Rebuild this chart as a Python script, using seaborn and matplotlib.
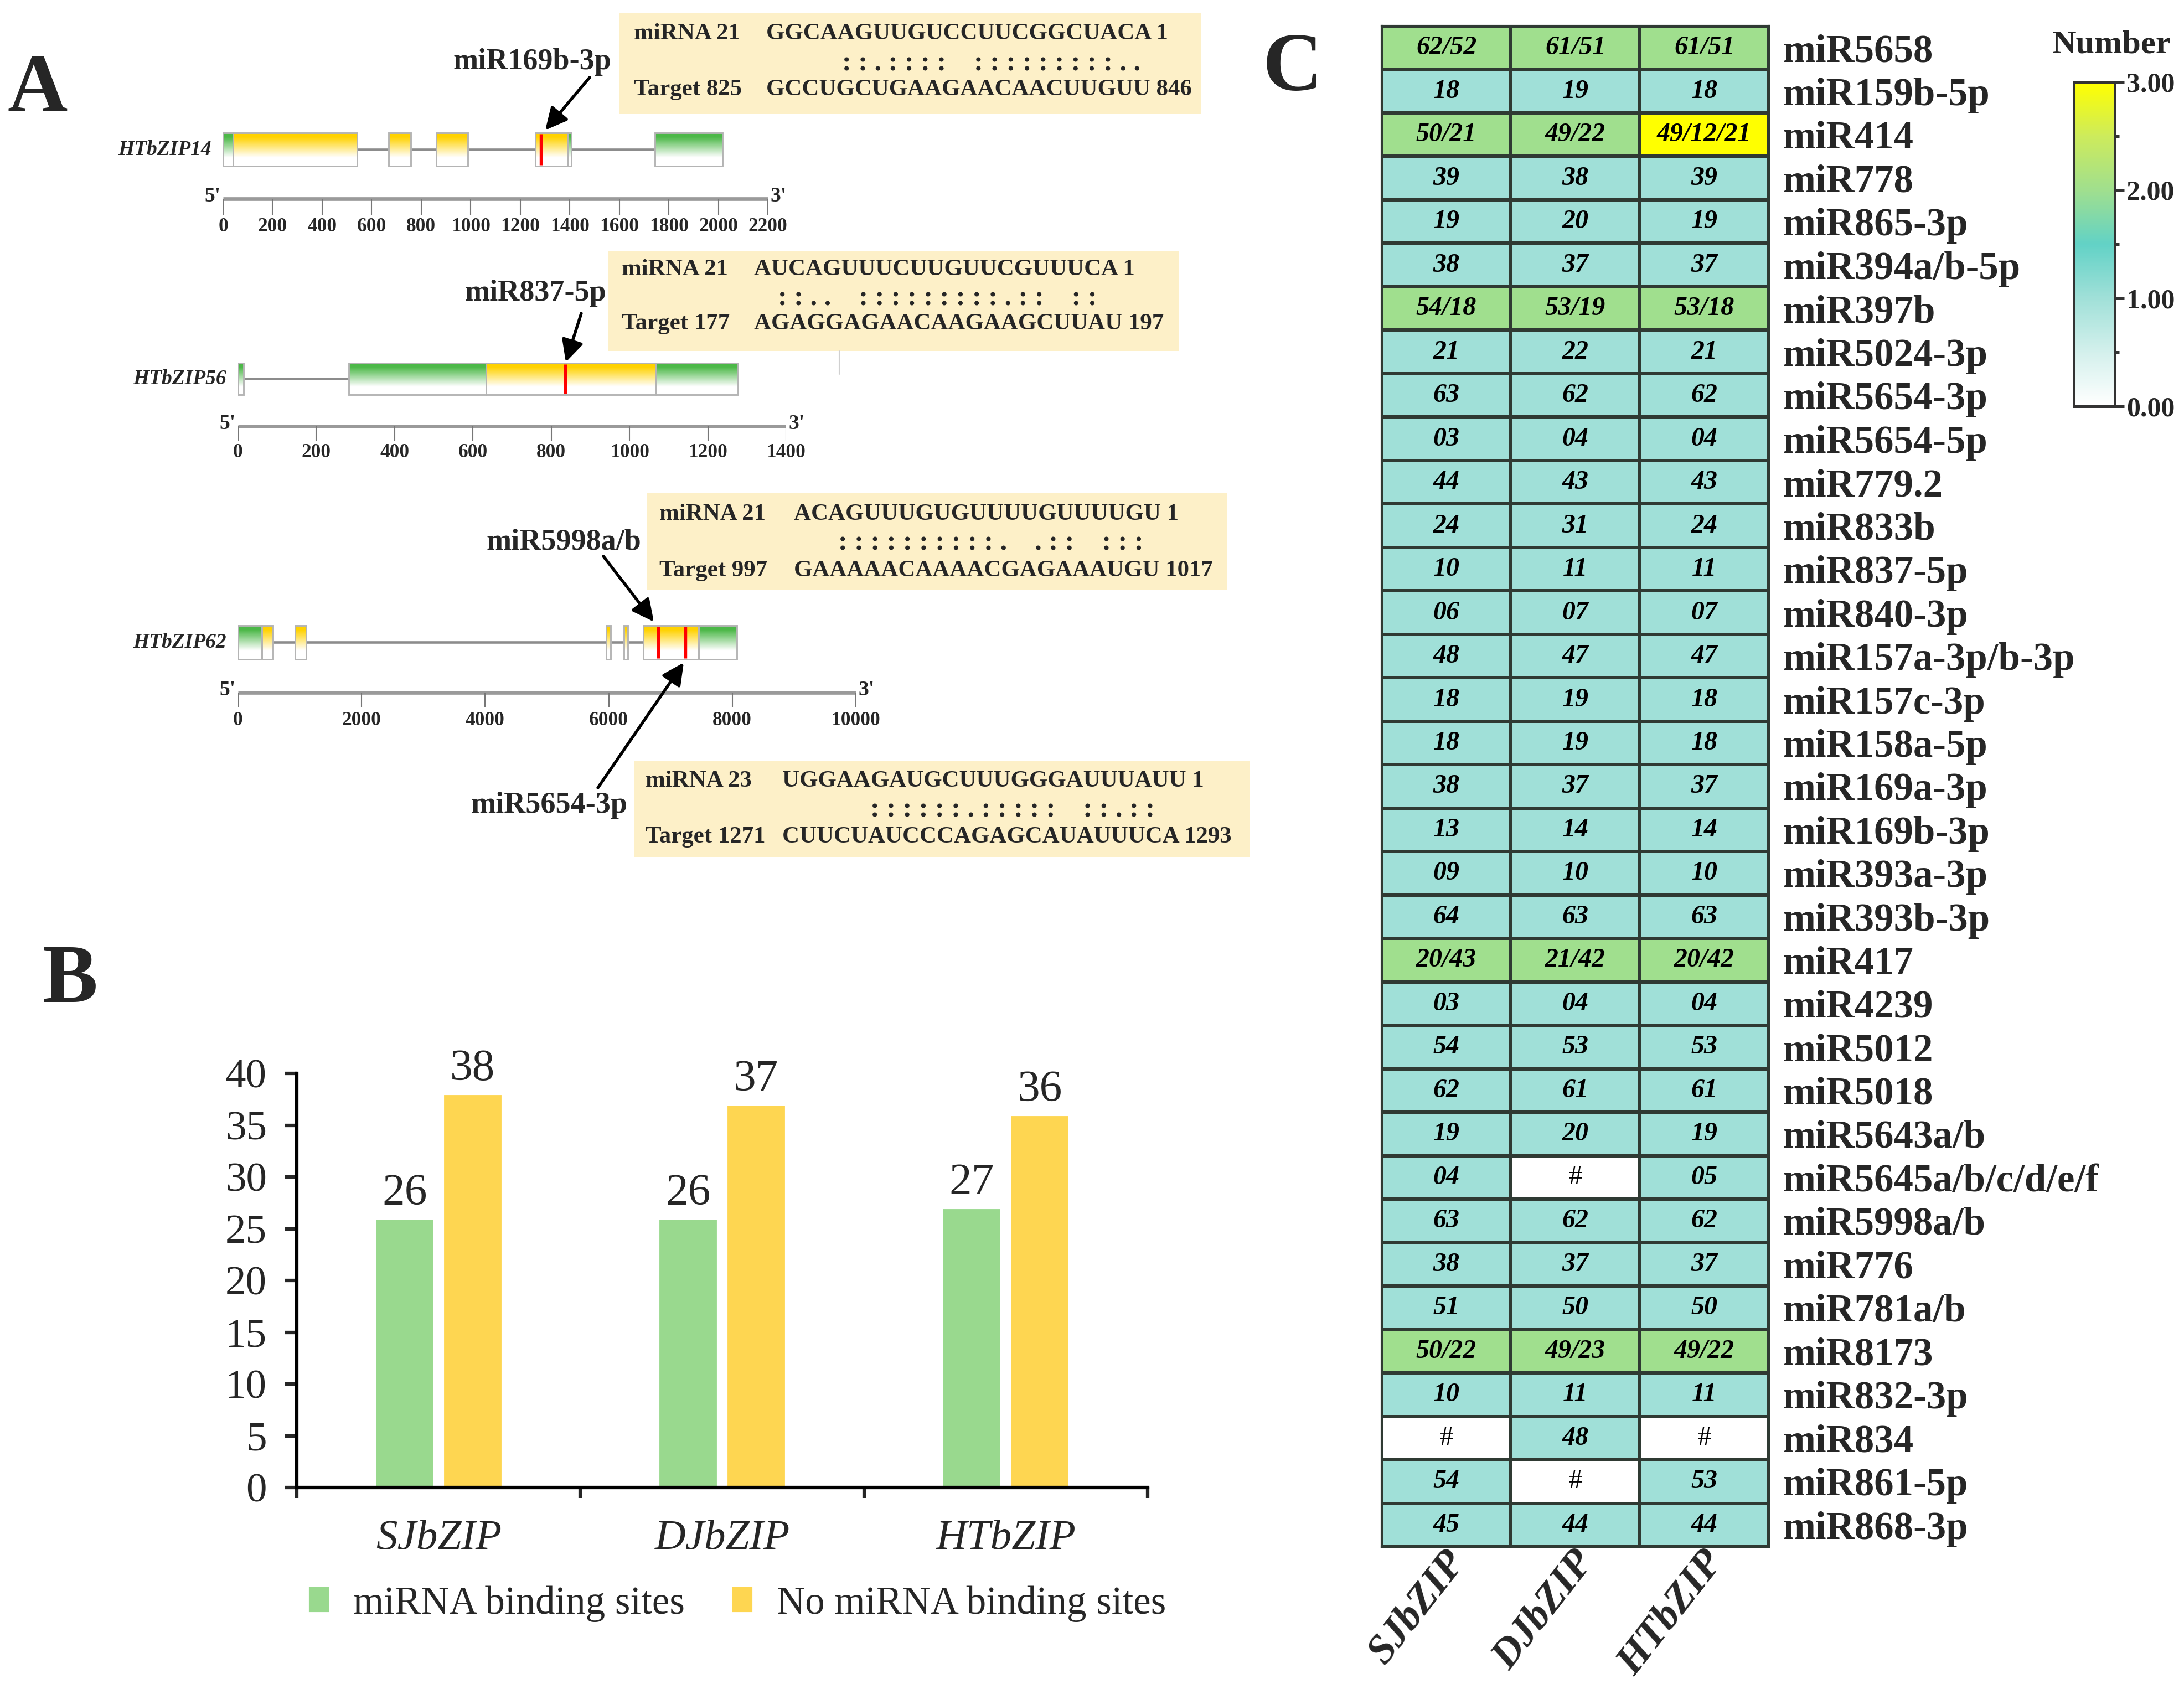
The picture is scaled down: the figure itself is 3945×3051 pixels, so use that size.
import numpy as np
import pandas as pd
import matplotlib.pyplot as plt
import seaborn as sns
from matplotlib.colors import LinearSegmentedColormap, to_rgb
from matplotlib.patches import Rectangle, Patch
from matplotlib.ticker import FixedLocator
from matplotlib.transforms import ScaledTranslation

sns.set_style('white')
plt.rcParams['font.family'] = ['Liberation Serif', 'DejaVu Serif']

W, H, DPI = 3945, 3051, 300

# ---------------- Panel A data (gene structures, positions in bp) ----------------
gene_names = ['HTbZIP14', 'HTbZIP56', 'HTbZIP62']
gene_lengths = [2016, 1277, 8075]
ruler_max = [2200, 1400, 10000]
ruler_step = [200, 200, 2000]
# (start, end, kind)  kind: 'utr' green, 'cds' yellow
exons_14 = [(0, 40, 'utr'), (40, 541, 'cds'), (669, 759, 'cds'), (861, 989, 'cds'),
            (1262, 1391, 'cds'), (1391, 1407, 'utr'), (1744, 2016, 'utr')]
exons_56 = [(0, 14, 'utr'), (283, 633, 'utr'), (633, 1068, 'cds'), (1068, 1277, 'utr')]
exons_62 = [(0, 386, 'utr'), (386, 566, 'cds'), (925, 1105, 'cds'), (5960, 6030, 'cds'),
            (6247, 6310, 'cds'), (6560, 7455, 'cds'), (7455, 8075, 'utr')]
sites_14 = [1284]
sites_56 = [836]
sites_62 = [6800, 7240]

site_mirnas = ['miR169b-3p', 'miR837-5p', 'miR5998a/b', 'miR5654-3p']
align_heads = [('miRNA 21', 'Target 825'), ('miRNA 21', 'Target 177'),
               ('miRNA 21', 'Target 997'), ('miRNA 23', 'Target 1271')]
align_mirna = ['GGCAAGUUGUCCUUCGGCUACA 1', 'AUCAGUUUCUUGUUCGUUUCA 1',
               'ACAGUUUGUGUUUUGUUUUGU 1', 'UGGAAGAUGCUUUGGGAUUUAUU 1']
align_match = [': : . : : : :    : : : : : : : : : . .', ': : . .    : : : : : : : : : . : :    : :',
               ': : : : : : : : : : .    . : :    : : :', ': : : : : : . : : : : :    : : . : :']
align_target = ['GCCUGCUGAAGAACAACUUGUU 846', 'AGAGGAGAACAAGAAGCUUAU 197',
                'GAAAAACAAAACGAGAAAUGU 1017', 'CUUCUAUCCCAGAGCAUAUUUCA 1293']

# ---------------- Panel B data ----------------
families = ['SJbZIP', 'DJbZIP', 'HTbZIP']
with_sites = [26, 26, 27]
without_sites = [38, 37, 36]
bar_types = ['miRNA binding sites', 'No miRNA binding sites']

# ---------------- Panel C data ----------------
mirnas = ['miR5658', 'miR159b-5p', 'miR414', 'miR778', 'miR865-3p', 'miR394a/b-5p', 'miR397b',
          'miR5024-3p', 'miR5654-3p', 'miR5654-5p', 'miR779.2', 'miR833b', 'miR837-5p',
          'miR840-3p', 'miR157a-3p/b-3p', 'miR157c-3p', 'miR158a-5p', 'miR169a-3p',
          'miR169b-3p', 'miR393a-3p', 'miR393b-3p', 'miR417', 'miR4239', 'miR5012', 'miR5018',
          'miR5643a/b', 'miR5645a/b/c/d/e/f', 'miR5998a/b', 'miR776', 'miR781a/b', 'miR8173',
          'miR832-3p', 'miR834', 'miR861-5p', 'miR868-3p']
sj_sites = ['62/52', '18', '50/21', '39', '19', '38', '54/18', '21', '63', '03', '44', '24', '10',
            '06', '48', '18', '18', '38', '13', '09', '64', '20/43', '03', '54', '62', '19', '04',
            '63', '38', '51', '50/22', '10', '#', '54', '45']
dj_sites = ['61/51', '19', '49/22', '38', '20', '37', '53/19', '22', '62', '04', '43', '31', '11',
            '07', '47', '19', '19', '37', '14', '10', '63', '21/42', '04', '53', '61', '20', '#',
            '62', '37', '50', '49/23', '11', '48', '#', '44']
ht_sites = ['61/51', '18', '49/12/21', '39', '19', '37', '53/18', '21', '62', '04', '43', '24', '11',
            '07', '47', '18', '18', '37', '14', '10', '63', '20/42', '04', '53', '61', '19', '05',
            '62', '37', '50', '49/22', '11', '#', '53', '44']
col_names = ['SJbZIP', 'DJbZIP', 'HTbZIP']

GREEN_BAR = '#99d98e'
YELLOW_BAR = '#fed651'
BOX = '#fdf0c8'

fig = plt.figure(figsize=(W / DPI, H / DPI), dpi=DPI)


def px_axes(x0, y0, x1, y1, **kw):
    return fig.add_axes([x0 / W, 1 - y1 / H, (x1 - x0) / W, (y1 - y0) / H], **kw)


# ======================= Panel B: bar chart =======================
df_b = pd.DataFrame({
    'family': families * 2,
    'count': with_sites + without_sites,
    'type': [bar_types[0]] * 3 + [bar_types[1]] * 3,
})
axb = px_axes(536, 1939, 2073, 2687)
sns.barplot(data=df_b, x='family', y='count', hue='type', palette=[GREEN_BAR, YELLOW_BAR],
            width=0.48, gap=0.12, saturation=1, legend=False, ax=axb)
for c in axb.containers:
    axb.bar_label(c, padding=2, fontsize=19.5)
axb.set_ylim(0, 40)
axb.set_yticks(range(0, 41, 5))
axb.set_xlim(-0.5, 2.5)
axb.set_xticks([-0.5, 0.5, 1.5, 2.5])
axb.set_xticklabels([])
axb.set_xticks([0, 1, 2], minor=True)
axb.set_xticklabels(families, minor=True, fontsize=18.5, style='italic')
axb.tick_params(axis='x', which='minor', length=0, pad=14, bottom=True)
axb.tick_params(axis='x', which='major', direction='out', length=4.5, width=1.5, bottom=True)
axb.tick_params(axis='y', direction='out', length=5, width=1.5, left=True, labelsize=18, pad=8)
sns.despine(ax=axb)
for s in ['left', 'bottom']:
    axb.spines[s].set_linewidth(1.5)
    axb.spines[s].set_color('black')
axb.set_xlabel('')
axb.set_ylabel('')
fig.legend([Patch(color=GREEN_BAR), Patch(color=YELLOW_BAR)], bar_types,
           loc='center left', bbox_to_anchor=(560 / W, 1 - 2897 / H), ncol=2, frameon=False,
           fontsize=17, handlelength=0.45, handleheight=0.5, handletextpad=0.65,
           columnspacing=1.25, borderpad=0, borderaxespad=0)

# ======================= Panel C: heatmap =======================
label_arr = np.array([sj_sites, dj_sites, ht_sites]).T
count_arr = np.array([[0 if s == '#' else len(s.split('/')) for s in row] for row in label_arr])
count_df = pd.DataFrame(count_arr, index=mirnas, columns=col_names)

cmap = LinearSegmentedColormap.from_list('number', [
    (0.0, '#ffffff'), (1 / 6, '#d3f0ec'), (1 / 3, '#a0e0d8'), (0.5, '#62d2c6'),
    (2 / 3, '#a0df8e'), (5 / 6, '#cdeb5c'), (1.0, '#ffff00')])

axc = px_axes(2496, 47, 3195, 2794)
cax = px_axes(3746, 148, 3820, 734)
sns.heatmap(count_df, cmap=cmap, vmin=0, vmax=3, annot=label_arr, fmt='',
            annot_kws=dict(fontsize=11.5, fontweight='bold', style='italic', color='black'),
            linewidths=1.0, linecolor='#2f3a33', cbar_ax=cax, ax=axc)
for t in axc.texts:
    if t.get_text() == '#':
        t.set_fontweight('normal')
        t.set_fontstyle('normal')
for s in axc.spines.values():
    s.set_visible(True)
    s.set_color('#2f3a33')
    s.set_linewidth(1.0)
axc.yaxis.tick_right()
axc.set_yticks(np.arange(len(mirnas)) + 0.5)
axc.set_yticklabels(mirnas, rotation=0, fontsize=17, fontweight='bold')
axc.tick_params(axis='y', length=0, pad=6)
axc.set_xticklabels(col_names, rotation=52, ha='right', va='center', rotation_mode='anchor',
                    fontsize=18, fontweight='bold', style='italic')
axc.tick_params(axis='x', length=0, pad=5)
shift = ScaledTranslation(5 / 72, 1 / 72, fig.dpi_scale_trans)
for lab in axc.get_xticklabels():
    lab.set_transform(lab.get_transform() + shift)
axc.set_xlabel('')
axc.set_ylabel('')

cbar = axc.collections[0].colorbar
cbar.set_ticks([0, 1, 2, 3])
cbar.set_ticklabels(['0.00', '1.00', '2.00', '3.00'])
cax.yaxis.set_minor_locator(FixedLocator([0.5, 1.5, 2.5]))
cax.tick_params(which='major', labelsize=12, length=4, width=1.2, color='#333333', pad=1, right=True)
cax.tick_params(which='minor', length=2, width=1.2, color='#333333', right=True)
for t in cax.get_yticklabels():
    t.set_fontweight('bold')
cbar.outline.set_edgecolor('#333333')
cbar.outline.set_linewidth(1.2)

# ======================= Panel A: gene structures =======================
gene_layout = [  # px0, px1, top, bottom, intron_y, ruler_y, tick_bottom, label_y
    (403, 1387, 240, 300, 270, 359, 388, 409),
    (430, 1420, 656, 713, 684, 770, 797, 817),
    (430, 1546, 1130, 1191, 1160, 1251, 1278, 1301),
]
all_exons = [exons_14, exons_56, exons_62]
all_sites = [sites_14, sites_56, sites_62]
kind_color = {'utr': '#4cb848', 'cds': '#ffd200'}

t = np.linspace(0, 1, 120)
mix = np.clip((t - 0.12) / 0.62, 0, 1)[:, None]

for i, name in enumerate(gene_names):
    px0, px1, top, bot, iy, ry, tb, ly = gene_layout[i]
    ax = px_axes(px0, top - 10, px1, ly + 30)
    ax.axis('off')
    ax.plot([0, gene_lengths[i]], [iy, iy], color='#8c8c8c', lw=1.1, solid_capstyle='butt', zorder=1)
    for s, e, kind in all_exons[i]:
        top_rgb = np.array(to_rgb(kind_color[kind]))
        grad = top_rgb * (1 - mix) + np.ones(3) * mix
        ax.imshow(grad[:, None, :], extent=(s, e, bot, top), origin='upper', aspect='auto',
                  interpolation='bilinear', zorder=2)
        ax.add_patch(Rectangle((s, top), e - s, bot - top, fill=False, edgecolor='#b4b4b4',
                               lw=0.7, zorder=3))
    ax.vlines(all_sites[i], top + 2, bot - 2, color='#ff0000', lw=1.3, zorder=4)
    ticks = list(range(0, ruler_max[i] + 1, ruler_step[i]))
    ax.plot([0, ruler_max[i]], [ry, ry], color='#9a9a9a', lw=1.6, solid_capstyle='butt', zorder=2)
    ax.vlines(ticks, ry, tb, color='#777777', lw=0.5)
    for tk in ticks:
        ax.text(tk, ly, str(tk), ha='center', va='center', fontsize=8.5, fontweight='bold')
    ax.annotate("5'", (0, ry), xytext=(-1, 1), textcoords='offset points', ha='right',
                va='center', fontsize=9, fontweight='bold')
    ax.annotate("3'", (ruler_max[i], ry), xytext=(1, 1), textcoords='offset points', ha='left',
                va='center', fontsize=9, fontweight='bold')
    ax.annotate(name, (0, iy), xytext=(-5, 0), textcoords='offset points', ha='right',
                va='center', fontsize=9, fontweight='bold', style='italic')
    ax.set_xlim(0, ruler_max[i])
    ax.set_ylim(ly + 30, top - 10)

# overlay in pixel units for labels, alignment boxes and arrows
ov = fig.add_axes([0, 0, 1, 1], zorder=5)
ov.set_xlim(0, W)
ov.set_ylim(H, 0)
ov.axis('off')

ov.text(68, 201, 'A', fontsize=36, fontweight='bold', ha='center', va='baseline')
ov.text(127, 1810, 'B', fontsize=36, fontweight='bold', ha='center', va='baseline')
ov.text(2335, 163, 'C', fontsize=36, fontweight='bold', ha='center', va='baseline')
ov.text(3814, 82, 'Number', fontsize=14.5, fontweight='bold', ha='center', va='center')

box_layout = [  # x0, y0, x1, y1, head_x, seq_x, match_x, line ys
    (1119, 23, 2169, 206, 1145, 1384, 1521, (61, 115, 162)),
    (1098, 453, 2130, 634, 1123, 1362, 1405, (487, 540, 585)),
    (1168, 891, 2217, 1065, 1191, 1434, 1514, (929, 982, 1031)),
    (1145, 1374, 2258, 1548, 1166, 1413, 1572, (1411, 1464, 1512)),
]
for k, (x0, y0, x1, y1, hx, sx, mx, ys) in enumerate(box_layout):
    ov.add_patch(Rectangle((x0, y0), x1 - x0, y1 - y0, facecolor=BOX, edgecolor='none', zorder=0))
    kw = dict(fontsize=10.3, fontweight='bold', va='center', ha='left')
    ov.text(hx, ys[0], align_heads[k][0], **kw)
    ov.text(sx, ys[0], align_mirna[k], **kw)
    ov.text(mx, ys[1], align_match[k], fontsize=12, fontweight='bold', va='center', ha='left')
    ov.text(hx, ys[2], align_heads[k][1], **kw)
    ov.text(sx, ys[2], align_target[k], **kw)

label_pos = [(961, 112), (967, 530), (1018, 980), (992, 1455)]
for name, (x, y) in zip(site_mirnas, label_pos):
    ov.text(x, y, name, fontsize=13, fontweight='bold', ha='center', va='center')

arrows = [((1065, 140), (985, 235)), ((1050, 566), (1022, 654)),
          ((1090, 1005), (1181, 1123)), ((1080, 1423), (1235, 1197))]
for (sx_, sy_), (ex_, ey_) in arrows:
    ov.annotate('', xy=(ex_, ey_), xytext=(sx_, sy_),
                arrowprops=dict(arrowstyle='-|>', color='black', lw=1.3, mutation_scale=20,
                                shrinkA=0, shrinkB=0))
ov.plot([1516, 1516], [634, 676], color='#d0d0d0', lw=0.5)

fig.savefig('out.png', dpi=DPI)
